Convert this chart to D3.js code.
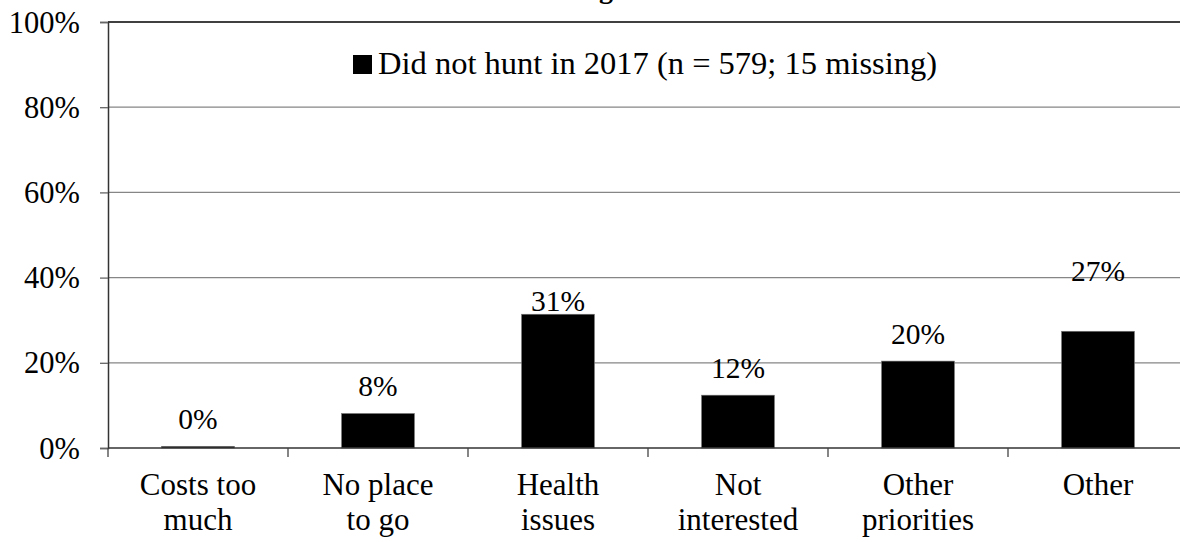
<!DOCTYPE html>
<html>
<head>
<meta charset="utf-8">
<script src="https://cdn.jsdelivr.net/npm/d3@7"></script>
<style>
  html, body { margin: 0; padding: 0; background: #fff; }
  svg { display: block; font-family: "Liberation Serif", "Times New Roman", serif; }
</style>
</head>
<body>
<svg id="chart" width="1180" height="542"></svg>
<script>
// ---- data ----
const categories = [["Costs too", "much"], ["No place", "to go"], ["Health", "issues"], ["Not", "interested"], ["Other", "priorities"], ["Other"]];
const values = [0.4, 8.1, 31.4, 12.4, 20.4, 27.4];
const yTicks = [0, 20, 40, 60, 80, 100];
const seriesName = "Did not hunt in 2017 (n = 579; 15 missing)";
const titleText = "Reasons for not hunting";

// ---- layout ----
const W = 1180, H = 542;
const margin = { left: 108, right: -8, top: 22, bottom: 94 };
const labelNudge = { 2: 14, 5: -33 }; // manual label placement as in the original
const svg = d3.select("#chart");

const x = d3.scaleBand()
  .domain(d3.range(categories.length))
  .range([margin.left, W - margin.right])
  .paddingInner(0.595).paddingOuter(0.2975);

const y = d3.scaleLinear().domain([0, 100]).range([H - margin.bottom, margin.top]);

// title (mostly clipped above view, as in the reference)
svg.append("text")
  .attr("x", 613).attr("y", -2)
  .attr("text-anchor", "end")
  .attr("font-weight", "bold")
  .attr("font-size", 28)
  .text(titleText);

// gridlines
svg.append("g")
  .selectAll("line")
  .data(yTicks.filter(d => d > 0))
  .join("line")
  .attr("x1", margin.left).attr("x2", W)
  .attr("y1", d => y(d)).attr("y2", d => y(d))
  .attr("stroke", d => d === 100 ? "#404040" : "#868686")
  .attr("stroke-width", d => d === 100 ? 2 : 1.3);

// y axis
const yAxis = d3.axisLeft(y).tickValues(yTicks).tickSize(8).tickPadding(20).tickFormat(d => d + "%");
const gy = svg.append("g").attr("transform", `translate(${margin.left},0)`).call(yAxis);
gy.select(".domain").attr("stroke", "#333").attr("stroke-width", 1.5);
gy.selectAll(".tick line").attr("stroke", "#666").attr("stroke-width", 1.3);
gy.selectAll(".tick text").attr("font-size", 30.5).attr("fill", "#000")
  .attr("font-family", "Liberation Serif, Times New Roman, serif")
  .attr("dy", "0.33em");

// bars
svg.append("g")
  .selectAll("rect")
  .data(values)
  .join("rect")
  .attr("x", (d, i) => x(i))
  .attr("width", x.bandwidth())
  .attr("y", d => y(d))
  .attr("height", d => y(0) - y(d))
  .attr("fill", "#000")
  .attr("stroke", "#777")
  .attr("stroke-width", 0.6);

// x axis with boundary ticks
const step = x.step();
const boundaries = d3.range(categories.length + 1).map(i => margin.left + i * step);
const gx = svg.append("g");
gx.append("line")
  .attr("x1", margin.left).attr("x2", W)
  .attr("y1", y(0)).attr("y2", y(0))
  .attr("stroke", "#333").attr("stroke-width", 1.5);
gx.selectAll(".bt")
  .data(boundaries)
  .join("line")
  .attr("class", "bt")
  .attr("x1", d => d).attr("x2", d => d)
  .attr("y1", y(0)).attr("y2", y(0) + 9)
  .attr("stroke", "#444").attr("stroke-width", 1.3);

// category labels
const cl = svg.append("g").attr("font-size", 31).attr("text-anchor", "middle");
categories.forEach((lines, i) => {
  const t = cl.append("text")
    .attr("x", x(i) + x.bandwidth() / 2)
    .attr("y", y(0) + 47);
  lines.forEach((ln, j) => {
    t.append("tspan")
      .attr("x", x(i) + x.bandwidth() / 2)
      .attr("dy", j === 0 ? 0 : 35)
      .text(ln);
  });
});

// value labels
const fmt = d3.format(".0%");
svg.append("g")
  .selectAll("text")
  .data(values)
  .join("text")
  .attr("x", (d, i) => x(i) + x.bandwidth() / 2)
  .attr("y", (d, i) => y(d) - 17 + (labelNudge[i] || 0))
  .attr("text-anchor", "middle")
  .attr("font-size", 29.5)
  .text(d => fmt(d / 100));

// legend
const lg = svg.append("g").attr("transform", "translate(353,55)");
lg.append("rect").attr("width", 19).attr("height", 19).attr("fill", "#000");
lg.append("text").attr("x", 25).attr("y", 19).attr("font-size", 32.5).text(seriesName);
</script>
</body>
</html>
